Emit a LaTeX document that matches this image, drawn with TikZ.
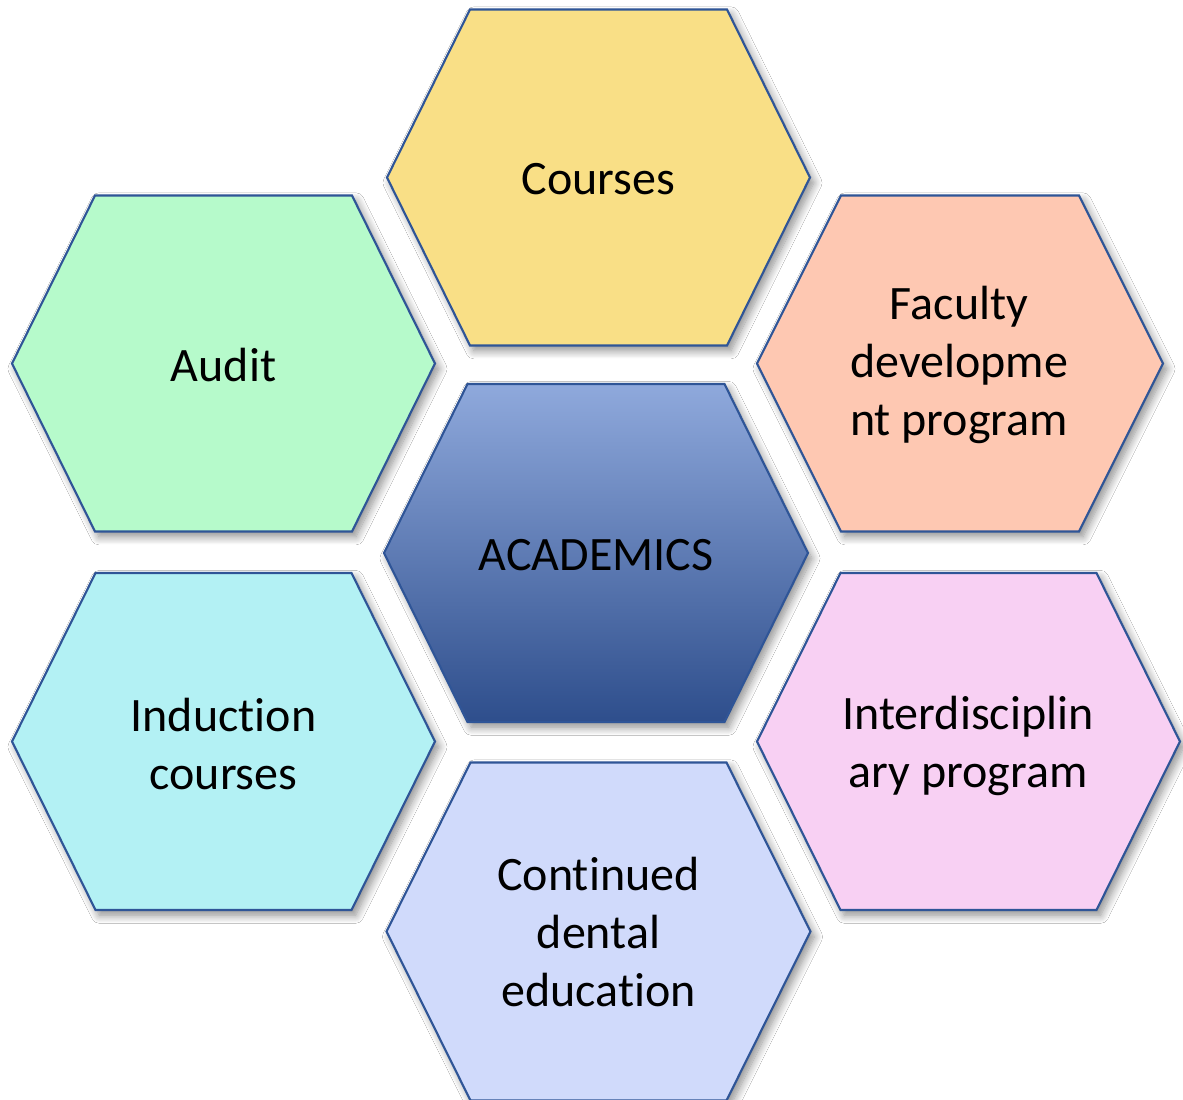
\documentclass[tikz,border=0pt]{standalone}
\usepackage{fontspec}
\setmainfont{Carlito}[Ligatures={NoCommon,NoContextual}]
\usetikzlibrary{shadows.blur}
\definecolor{edgeblue}{HTML}{2F5597}
\definecolor{cyellow}{HTML}{F9DF86}
\definecolor{cgreen}{HTML}{B6FACB}
\definecolor{csalmon}{HTML}{FEC8B2}
\definecolor{ccyan}{HTML}{B3F1F4}
\definecolor{cpink}{HTML}{F8D0F3}
\definecolor{clav}{HTML}{D0DAFB}
\definecolor{gtop}{HTML}{8FA9DC}
\definecolor{gmid}{HTML}{4472C4}
\definecolor{gbot}{HTML}{2E4E8C}
\newcommand\hexpath[6]{%
  \path[#6] ({#1-#3},#2) -- ({#1-#5},{#2-#4}) -- ({#1+#5},{#2-#4}) -- ({#1+#3},#2)
    -- ({#1+#5},{#2+#4}) -- ({#1-#5},{#2+#4}) -- cycle;}
\tikzset{
  hexbase/.style={draw=edgeblue, line width=1.6pt, line join=miter,
    blur shadow={shadow xshift=3pt, shadow yshift=-4pt, shadow blur radius=6pt,
      shadow blur steps=12, shadow opacity=45}},
  hexlabel/.style={align=center, text=black, inner sep=0pt,
    font=\fontsize{36}{43.5}\selectfont}
}
\begin{document}
\begin{tikzpicture}[x=0.75pt,y=-0.75pt]
\useasboundingbox (0,0) rectangle (1183,1100);
\fill[white] (0,0) rectangle (1183,1100);
% outer hexagons
\hexpath{598.5}{177.5}{211.5}{168}{128.5}{hexbase, fill=cyellow}
\hexpath{223.5}{363.5}{211.5}{168}{128.5}{hexbase, fill=cgreen}
\hexpath{960}{363.5}{203}{168}{119}{hexbase, fill=csalmon}
\hexpath{223.5}{741.5}{211.5}{168.5}{128}{hexbase, fill=ccyan}
\hexpath{968.5}{741.5}{211.5}{168.5}{128}{hexbase, fill=cpink}
\hexpath{598.5}{931.5}{212}{169}{128}{hexbase, fill=clav}
% central hexagon
\hexpath{596}{553}{212}{169}{128.5}{hexbase, top color=gtop, middle color=gmid, bottom color=gbot}
% labels
\node[hexlabel] (courses) at (598.5,179) {Courses};
\node[hexlabel] (audit) at (223.5,365) {Audit};
\node[hexlabel] (faculty) at (959,365) {Faculty\\developme\\nt program};
\node[hexlabel] (academics) at (596,555) {ACADEMICS};
\node[hexlabel] (induction) at (223.5,744) {Induction\\courses};
\node[hexlabel] (interdisc) at (968,746) {Interdisciplin\\ary program};
\node[hexlabel] (cde) at (598.5,932) {Continued\\dental\\education};
\end{tikzpicture}
\end{document}
